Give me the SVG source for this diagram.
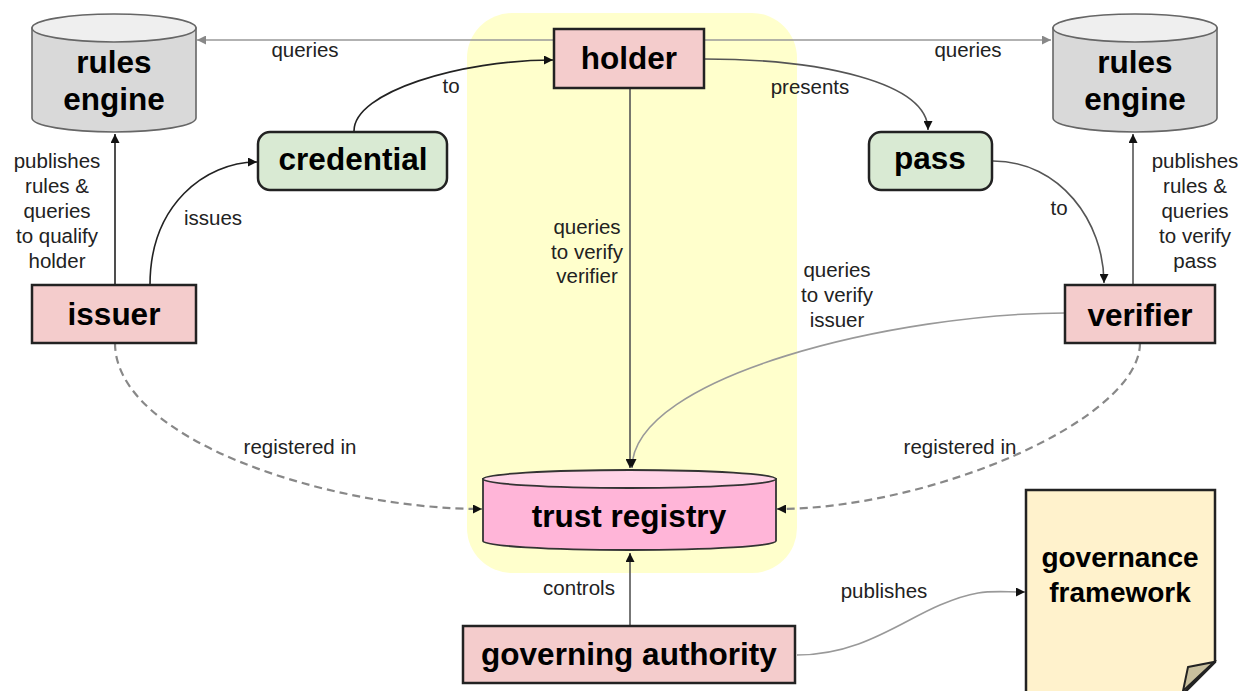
<svg xmlns="http://www.w3.org/2000/svg" width="1243" height="691" viewBox="0 0 1243 691">
<style>
.nt{font-family:"Liberation Sans",Arial,sans-serif;font-weight:bold;font-size:31.5px;fill:#000;text-anchor:middle}
.lb{font-family:"Liberation Sans",Arial,sans-serif;font-size:20.5px;fill:#222;text-anchor:middle}
.box{fill:#f4cccc;stroke:#222;stroke-width:2.5}
.grn{fill:#d9ead3;stroke:#222;stroke-width:2.5}
.c{fill:none;stroke-width:1.6}
.k{stroke:#222}
.m{stroke:#555}
.g{stroke:#999}
.d{stroke:#888;stroke-width:2.2;stroke-dasharray:8 5}
</style>
<defs>
<marker id="ak" viewBox="0 0 10 10" refX="10" refY="5" markerWidth="11" markerHeight="9" markerUnits="userSpaceOnUse" orient="auto"><path d="M0 0 L10 5 L0 10 z" fill="#111"/></marker>
<marker id="ag" viewBox="0 0 10 10" refX="10" refY="5" markerWidth="11" markerHeight="9" markerUnits="userSpaceOnUse" orient="auto"><path d="M0 0 L10 5 L0 10 z" fill="#888"/></marker>
</defs>
<rect width="1243" height="691" fill="#fff"/>
<rect id="bg" x="467" y="13" width="330" height="560" rx="45" fill="#ffffcc"/>

<g id="connectors">
<path class="c g" d="M554 40 L197 40" marker-end="url(#ag)"/>
<path class="c g" d="M704 40 L1051 40" marker-end="url(#ag)"/>
<path class="c k" d="M354 131 C354 92 460 60 553 60" marker-end="url(#ak)"/>
<path class="c k" d="M150 285 C150 205 205 162 257 162" marker-end="url(#ak)"/>
<path class="c k" d="M115 285 L115 134" marker-end="url(#ak)"/>
<path class="c m" d="M704 59 C820 59 928 82 928 130" marker-end="url(#ak)"/>
<path class="c m" d="M993 161 C1060 161 1104 222 1104 283" marker-end="url(#ak)"/>
<path class="c m" d="M1133 285 L1133 134" marker-end="url(#ak)"/>
<path class="c m" d="M630 88 L630 468" marker-end="url(#ak)"/>
<path class="c g" d="M1065 313 C900 313 632 375 632 468" marker-end="url(#ak)"/>
<path class="c d" d="M115 343 C115 440 330 509 482 509" marker-end="url(#ak)"/>
<path class="c d" d="M1140 343 C1140 420 930 509 777 509" marker-end="url(#ak)"/>
<path class="c m" d="M630 626 L630 553" marker-end="url(#ak)"/>
<path class="c g" d="M797 655 C860 655 900 622 940 605 S990 592 1025 592" marker-end="url(#ak)"/>
</g>

<g id="labels">
<text class="lb" x="305" y="57">queries</text>
<text class="lb" x="968" y="57">queries</text>
<text class="lb" x="451" y="93">to</text>
<text class="lb" x="213" y="225">issues</text>
<text class="lb" x="810" y="94">presents</text>
<text class="lb" x="1059" y="215">to</text>
<text class="lb" x="57" y="168">publishes</text>
<text class="lb" x="57" y="193">rules &amp;</text>
<text class="lb" x="57" y="218">queries</text>
<text class="lb" x="57" y="243">to qualify</text>
<text class="lb" x="57" y="268">holder</text>
<text class="lb" x="1195" y="168">publishes</text>
<text class="lb" x="1195" y="193">rules &amp;</text>
<text class="lb" x="1195" y="218">queries</text>
<text class="lb" x="1195" y="243">to verify</text>
<text class="lb" x="1195" y="268">pass</text>
<text class="lb" x="587" y="234">queries</text>
<text class="lb" x="587" y="259">to verify</text>
<text class="lb" x="587" y="283">verifier</text>
<text class="lb" x="837" y="277">queries</text>
<text class="lb" x="837" y="302">to verify</text>
<text class="lb" x="837" y="327">issuer</text>
<text class="lb" x="300" y="454">registered in</text>
<text class="lb" x="960" y="454">registered in</text>
<text class="lb" x="579" y="595">controls</text>
<text class="lb" x="884" y="598">publishes</text>
</g>

<g id="rules-engine-left">
<path d="M32 28 L32 118 A82 14 0 0 0 196 118 L196 28 Z" fill="#d9d9d9" stroke="#666" stroke-width="1.6"/>
<ellipse cx="114" cy="28" rx="82" ry="14" fill="#efefef" stroke="#666" stroke-width="1.6"/>
<text class="nt" x="114" y="73">rules</text>
<text class="nt" x="114" y="110">engine</text>
</g>

<g id="rules-engine-right">
<path d="M1053 28 L1053 118 A82 14 0 0 0 1217 118 L1217 28 Z" fill="#d9d9d9" stroke="#666" stroke-width="1.6"/>
<ellipse cx="1135" cy="28" rx="82" ry="14" fill="#efefef" stroke="#666" stroke-width="1.6"/>
<text class="nt" x="1135" y="73">rules</text>
<text class="nt" x="1135" y="110">engine</text>
</g>

<g id="holder">
<rect class="box" x="554" y="29" width="150" height="59"/>
<text class="nt" x="629" y="69">holder</text>
</g>

<g id="credential">
<rect class="grn" x="258" y="132" width="189" height="58" rx="12"/>
<text class="nt" x="353" y="170">credential</text>
</g>

<g id="pass">
<rect class="grn" x="869" y="132" width="123" height="58" rx="12"/>
<text class="nt" x="930" y="169">pass</text>
</g>

<g id="issuer">
<rect class="box" x="32" y="285" width="164" height="58"/>
<text class="nt" x="114" y="325">issuer</text>
</g>

<g id="verifier">
<rect class="box" x="1065" y="285" width="150" height="58"/>
<text class="nt" x="1140" y="326">verifier</text>
</g>

<g id="trust-registry">
<path d="M483 479 L483 541 A146.5 9 0 0 0 776 541 L776 479 Z" fill="#ffb5d8" stroke="#333" stroke-width="1.8"/>
<ellipse cx="629.5" cy="479" rx="146.5" ry="9" fill="#ffd3e7" stroke="#333" stroke-width="1.8"/>
<text class="nt" x="629" y="527">trust registry</text>
</g>

<g id="governing-authority">
<rect class="box" x="463" y="626" width="332" height="57"/>
<text class="nt" x="629" y="665">governing authority</text>
</g>

<g id="governance-framework">
<path d="M1026 490 L1215 490 L1215 662 L1183 694 L1026 694 Z" fill="#fff2cc" stroke="#222" stroke-width="2.5"/>
<path d="M1188 667 L1214 662 L1183 691 Z" fill="#c9c09e" stroke="#222" stroke-width="2"/>
<text class="nt" style="font-size:28px" x="1120" y="567">governance</text>
<text class="nt" style="font-size:28px" x="1120" y="602">framework</text>
</g>
</svg>
